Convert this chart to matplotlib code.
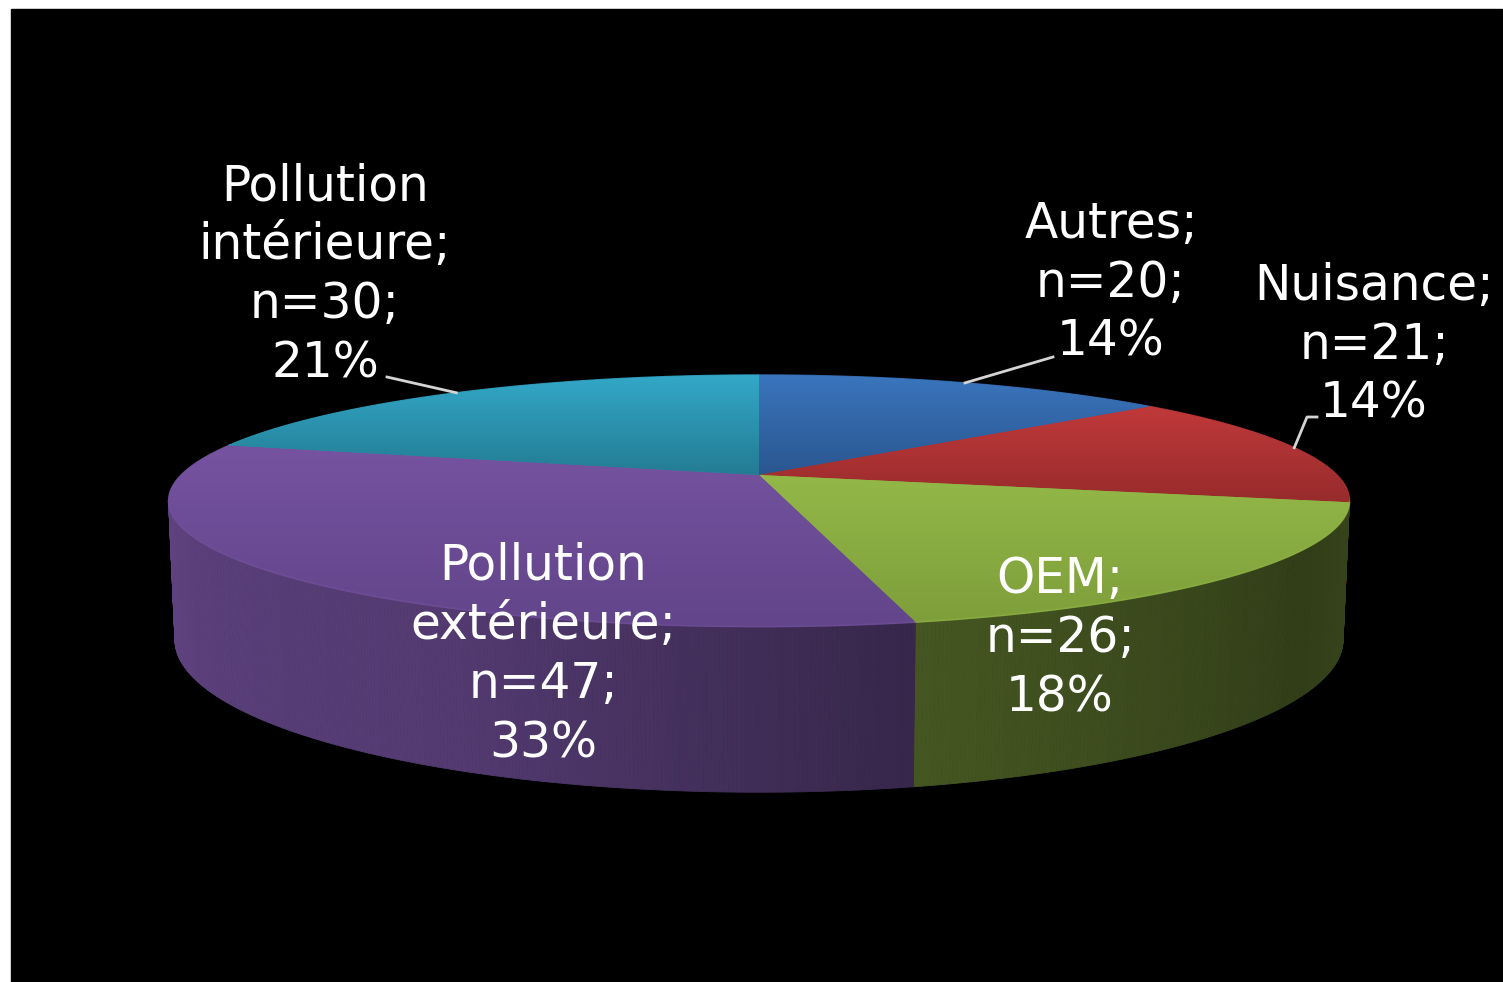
import numpy as np
import matplotlib.pyplot as plt
from matplotlib.patches import Polygon, Rectangle
from matplotlib.collections import PolyCollection
from matplotlib.colors import to_rgb

# --- data (clockwise from 12 o'clock) ---
categories = ['Autres', 'Nuisance', 'OEM', 'Pollution\nextérieure', 'Pollution\nintérieure']
counts = [20, 21, 26, 47, 30]
pct_labels = ['14%', '14%', '18%', '33%', '21%']

# top-face gradient colours (light at back, dark at front)
light = ['#3A75BD', '#C0393A', '#93B848', '#7653A0', '#33A8C8']
dark = ['#2A5690', '#982B2C', '#7E9E3A', '#62458A', '#237C93']

# label layout (centre x, first baseline y) in pixels
label_pos = [(1111, 238), (1374, 300), (1060, 593), (543, 580), (325, 200)]
leader_start = {0: [(1053, 357)], 1: [(1317, 417), (1307, 417)], 4: [(387, 377)]}

W, H = 1503, 982
fig = plt.figure(figsize=(W / 100, H / 100), dpi=100)
ax = fig.add_axes([0, 0, 1, 1])
ax.set_xlim(0, W)
ax.set_ylim(H, 0)
ax.axis('off')
fig.patch.set_facecolor('white')
ax.add_patch(Rectangle((11, 9), W - 12, H - 9, color='black', zorder=0))

# simple perspective camera for the 3D pie
cx, cy = 759, 475
f, D = 2760, 4.776
sphi, cphi = 0.2085, 0.978
h = 0.239


def proj(theta, z=0.0):
    t = np.radians(theta)
    u, v = np.sin(t), -np.cos(t)
    depth = D - v * cphi - z * sphi
    return cx + f * u / depth, cy + f * (v * sphi - z * cphi) / depth


def wall_shade(theta):
    return np.interp(theta, [95, 125, 168, 205, 255, 265],
                     [0.38, 0.34, 0.47, 0.70, 0.80, 0.81])


total = sum(counts)
edges = np.concatenate([[0], np.cumsum(counts)]) / total * 360

# outer wall (only the part facing the viewer)
vis_lo, vis_hi = 101, 258
quads, cols = [], []
for i in range(len(counts)):
    a0, a1 = max(edges[i], vis_lo), min(edges[i + 1], vis_hi)
    if a1 <= a0:
        continue
    ts = np.linspace(a0, a1, int((a1 - a0) * 3) + 2)
    base = np.array(to_rgb(light[i]))
    for t0, t1 in zip(ts[:-1], ts[1:]):
        quads.append([proj(t0), proj(t1), proj(t1, -h), proj(t0, -h)])
        cols.append(np.clip(base * wall_shade((t0 + t1) / 2), 0, 1))
ax.add_collection(PolyCollection(quads, facecolors=cols, edgecolors=cols,
                                 linewidths=0.6, zorder=1))

# top faces with vertical gradient per slice
for i in range(len(counts)):
    ts = np.linspace(edges[i], edges[i + 1], 200)
    pts = np.array([(cx, cy)] + [proj(t) for t in ts])
    c_l, c_d = np.array(to_rgb(light[i])), np.array(to_rgb(dark[i]))
    poly = Polygon(pts, closed=True, fc=(c_l + c_d) / 2, ec=(c_l + c_d) / 2,
                   lw=1, zorder=2)
    ax.add_patch(poly)
    y0, y1 = pts[:, 1].min(), pts[:, 1].max()
    x0, x1 = pts[:, 0].min(), pts[:, 0].max()
    g = np.linspace(0, 1, 64)[:, None, None]
    arr = c_l[None, None, :] * (1 - g) + c_d[None, None, :] * g
    arr = np.repeat(arr, 2, axis=1)
    im = ax.imshow(arr, extent=(x0, x1, y1, y0), origin='upper',
                   aspect='auto', interpolation='bilinear', zorder=3)
    im.set_clip_path(poly)
    # faint rim highlight on the front edge
    a0, a1 = max(edges[i], vis_lo), min(edges[i + 1], vis_hi)
    if a1 > a0:
        rim = np.array([proj(t) for t in np.linspace(a0, a1, 100)])
        ax.plot(rim[:, 0], rim[:, 1], color=c_l, lw=1.5,
                alpha=0.35, zorder=4)

ax.set_xlim(0, W)
ax.set_ylim(H, 0)

# labels and leader lines
line_gap = 59
for i, (cat, n, p) in enumerate(zip(categories, counts, pct_labels)):
    lines = cat.split('\n')
    lines[-1] = lines[-1] + ';'
    lines += ['n=%d;' % n, p]
    x, y = label_pos[i]
    for k, s in enumerate(lines):
        ax.text(x, y + k * line_gap, s, color='white', fontsize=35,
                family='DejaVu Sans', ha='center', va='baseline', zorder=6)
    if i in leader_start:
        mid = (edges[i] + edges[i + 1]) / 2
        path = leader_start[i] + [proj(mid)]
        px, py = zip(*path)
        ax.plot(px, py, color='#d4d4d4', lw=2, zorder=5)

plt.savefig('out.png', dpi=100, facecolor=fig.get_facecolor())
